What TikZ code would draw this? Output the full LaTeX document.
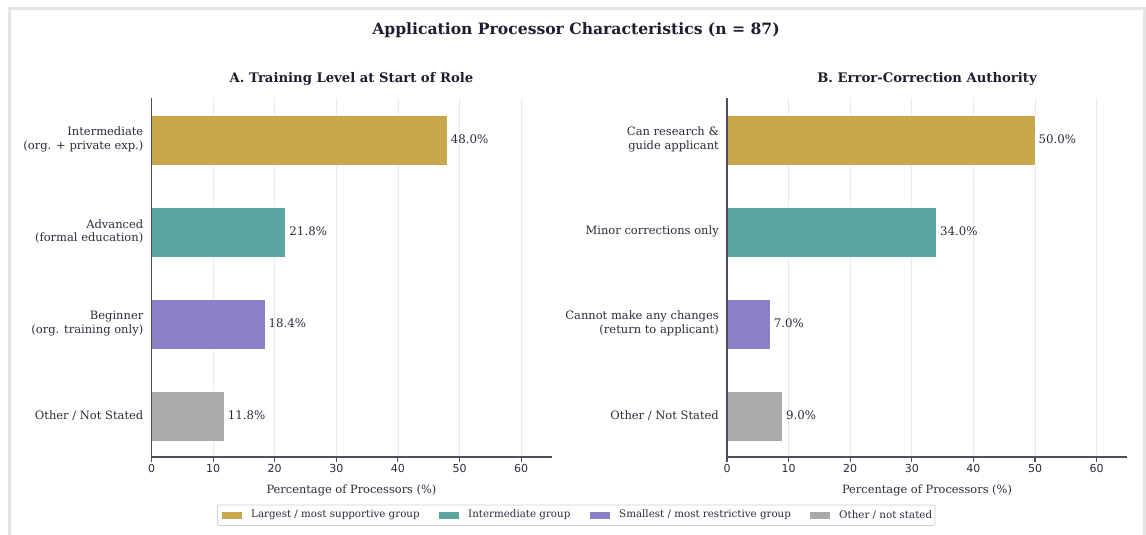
\documentclass[tikz,border=0pt]{standalone}
\usepackage{fontspec}
\setmainfont{DejaVu Serif}
\newfontfamily\ticksans{DejaVu Sans}

\definecolor{ink}{HTML}{2B2B3D}
\definecolor{titleink}{HTML}{1E1E30}
\definecolor{spinec}{HTML}{4F4F5C}
\definecolor{gridc}{HTML}{E8E8EC}
\definecolor{framec}{HTML}{E4E4E4}
\definecolor{legedge}{HTML}{D0D0D0}
\definecolor{cgold}{HTML}{C9A84B}
\definecolor{cteal}{HTML}{5BA5A0}
\definecolor{cpurple}{HTML}{8A80C8}
\definecolor{cgray}{HTML}{AAAAAA}

% one horizontal bar: name, centre y, value, colour, category label
\newcommand\drawbar[5]{%
  \fill[#4, draw=white, line width=0.6] (0,{#2-25}) rectangle ({#3*6.16},{#2+25});
  \node[vallab] (#1v) at ({#3*6.16+3.5},{#2-0.5}) {#3\%};
  \node[catlab] (#1c) at (-8,{#2-0.5}) {#5};
}

% grid, subtitle and x label of one panel
\newcommand\panelaxes[2]{% name, subtitle
  \foreach \v in {10,20,...,60}
    \draw[gridline] ({\v*6.16},98) -- ({\v*6.16},457);
  \node[subtitle] (#1t) at (200,79) {#2};
  \node[axlab] (#1x) at (200,490) {Percentage of Processors (\%)};
}
% spines, ticks and tick labels
\newcommand\panelspines{%
  \draw[spine] (0,98) -- (0,457) -- ({65*6.16},457);
  \foreach \v in {0,10,...,60} {
    \draw[spine] ({\v*6.16},457) -- ({\v*6.16},461.5);
    \node[ticklab] at ({\v*6.16},468.5) {\v};
  }
}

\begin{document}
\begin{tikzpicture}[x=1pt,y=-1pt,
  every node/.style={text=ink, inner sep=0pt},
  gridline/.style={draw=gridc, line width=0.8},
  spine/.style={draw=spinec, line width=1.1},
  catlab/.style={anchor=east, align=right, font=\fontsize{11.5}{13.5}\selectfont},
  vallab/.style={anchor=west, font=\fontsize{11.8}{13}\selectfont},
  ticklab/.style={font=\ticksans\fontsize{11}{12}\selectfont},
  axlab/.style={font=\fontsize{11.4}{13}\selectfont},
  subtitle/.style={font=\bfseries\fontsize{13.2}{15}\selectfont, text=titleink},
  legtext/.style={anchor=west, font=\fontsize{10.3}{12}\selectfont}]

\useasboundingbox (0,0) rectangle (1146,535);
\fill[white] (0,0) rectangle (1146,535);
\draw[framec, line width=2.5] (9.5,545) -- (9.5,8.5) -- (1144.5,8.5) -- (1144.5,545);

\node[font=\bfseries\fontsize{15.6}{18}\selectfont, text=titleink] (title) at (576,30)
  {Application Processor Characteristics (n = 87)};

% panel A
\begin{scope}[xshift=151.5pt]
  \panelaxes{a}{A. Training Level at Start of Role}
  \drawbar{a1}{140}{48.0}{cgold}{Intermediate\\(org. + private exp.)}
  \drawbar{a2}{232}{21.8}{cteal}{Advanced\\(formal education)}
  \drawbar{a3}{324}{18.4}{cpurple}{Beginner\\(org. training only)}
  \drawbar{a4}{416}{11.8}{cgray}{Other / Not Stated}
  \panelspines
\end{scope}

% panel B
\begin{scope}[xshift=727pt]
  \panelaxes{b}{B. Error-Correction Authority}
  \drawbar{b1}{140}{50.0}{cgold}{Can research \&\\guide applicant}
  \drawbar{b2}{232}{34.0}{cteal}{Minor corrections only}
  \drawbar{b3}{324}{7.0}{cpurple}{Cannot make any changes\\(return to applicant)}
  \drawbar{b4}{416}{9.0}{cgray}{Other / Not Stated}
  \panelspines
\end{scope}

% legend
\draw[legedge, fill=white, line width=0.8, rounded corners=2] (217.5,505) rectangle (935,525.5);
\fill[cgold]   (222,511.5) rectangle (242,518.5);
\node[legtext] (l1) at (251,515) {Largest / most supportive group};
\fill[cteal]   (439,511.5) rectangle (459,518.5);
\node[legtext] (l2) at (468,515) {Intermediate group};
\fill[cpurple] (590,511.5) rectangle (610,518.5);
\node[legtext] (l3) at (619,515) {Smallest / most restrictive group};
\fill[cgray]   (810,511.5) rectangle (830,518.5);
\node[legtext] (l4) at (839,515) {Other / not stated};
\end{tikzpicture}
\end{document}
